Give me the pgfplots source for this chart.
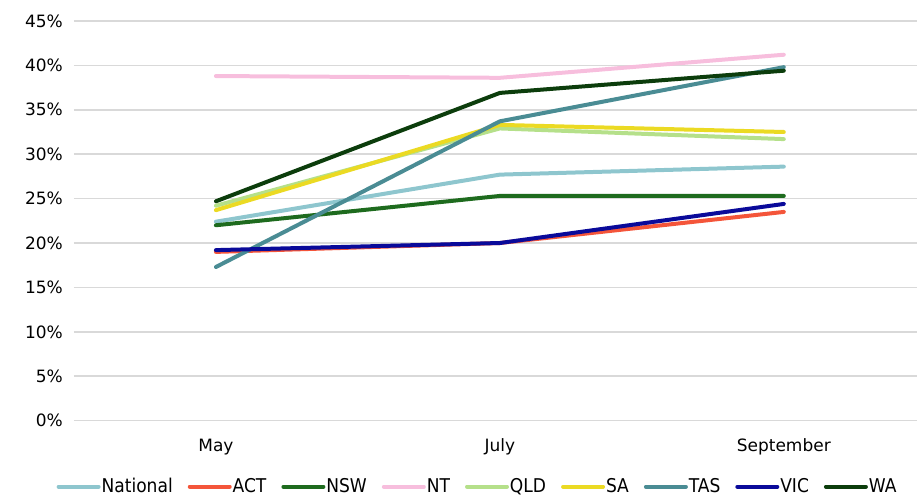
\documentclass[border=0pt]{standalone}
\usepackage{fontspec}
\setmainfont{DejaVu Sans}
\newfontfamily\condfont{DejaVu Sans Condensed}
\usepackage{pgfplots}
\pgfplotsset{compat=1.18}
\definecolor{cNat}{HTML}{8EC6CE}
\definecolor{cACT}{HTML}{F4553A}
\definecolor{cNSW}{HTML}{1E6B1E}
\definecolor{cNT}{HTML}{F7BEDD}
\definecolor{cQLD}{HTML}{B5E08A}
\definecolor{cSA}{HTML}{EBDA23}
\definecolor{cTAS}{HTML}{4A8C94}
\definecolor{cVIC}{HTML}{0A0A9A}
\definecolor{cWA}{HTML}{0C3D0C}
\begin{document}
\begin{tikzpicture}
\begin{axis}[
  scale only axis,
  width=422pt, height=200pt,
  xmin=-0.5, xmax=2.47,
  ymin=0, ymax=45,
  xtick={0,1,2},
  xticklabels={May,July,September},
  ytick={0,5,...,45},
  yticklabel={\pgfmathprintnumber{\tick}\%},
  /pgf/number format/assume math mode=true,
  axis line style={draw=none},
  major tick length=0pt,
  ymajorgrids,
  grid style={color=black!15, line width=0.75pt},
  tick label style={font=\fontsize{8.5}{10}\selectfont},
  xticklabel style={yshift=-5.5pt},
  yticklabel style={xshift=-2pt},
  clip=false,
  legend style={draw=none, at={(0.478,-0.165)}, anchor=center,
    font=\condfont\fontsize{9.5}{11}\selectfont, legend columns=9,
    nodes={inner xsep=0.5pt},
    /tikz/every odd column/.append style={column sep=0pt},
    /tikz/every even column/.append style={column sep=7pt},
    inner sep=0pt},
  legend image code/.code={\draw[#1, line cap=round] (0pt,0pt) -- (20pt,0pt);},
  every axis plot/.append style={line width=2pt, line cap=round, mark=none},
]
\addplot[cNat] coordinates {(0,22.4) (1,27.7) (2,28.6)};
\addlegendentry{National}
\addplot[cACT] coordinates {(0,19.0) (1,20.0) (2,23.5)};
\addlegendentry{ACT}
\addplot[cNSW] coordinates {(0,22.0) (1,25.3) (2,25.3)};
\addlegendentry{NSW}
\addplot[cNT] coordinates {(0,38.8) (1,38.6) (2,41.2)};
\addlegendentry{NT}
\addplot[cQLD] coordinates {(0,24.2) (1,32.9) (2,31.7)};
\addlegendentry{QLD}
\addplot[cSA] coordinates {(0,23.7) (1,33.3) (2,32.5)};
\addlegendentry{SA}
\addplot[cTAS] coordinates {(0,17.3) (1,33.7) (2,39.8)};
\addlegendentry{TAS}
\addplot[cVIC] coordinates {(0,19.2) (1,20.0) (2,24.4)};
\addlegendentry{VIC}
\addplot[cWA] coordinates {(0,24.7) (1,36.9) (2,39.4)};
\addlegendentry{WA}
\end{axis}
\path[use as bounding box] (-37pt,-37pt) rectangle (422pt,210.5pt);
\end{tikzpicture}
\end{document}
